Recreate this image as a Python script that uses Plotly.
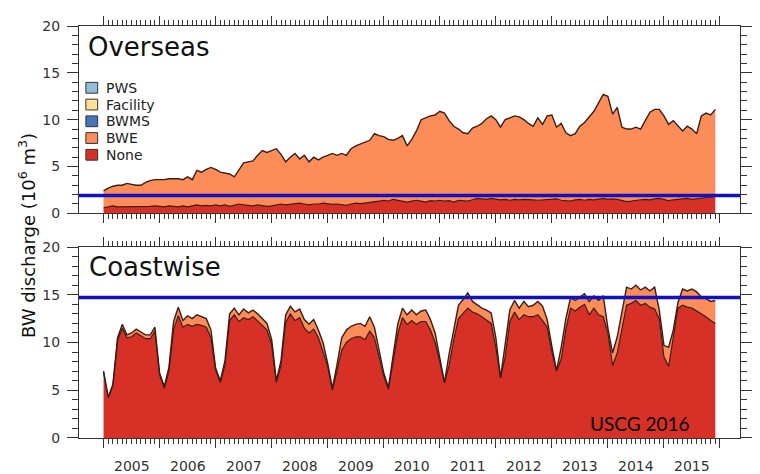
import plotly.graph_objects as go

# ---------------- data (monthly, Jan 2005 - Dec 2015) ----------------
years = list(range(2005, 2016))
month_index = list(range(132))

# Overseas: "None" layer and the top of the stacked "BWE" layer (10^6 m^3)
overseas_none = [
    0.6, 0.7, 0.8, 0.7, 0.7, 0.75, 0.7, 0.75, 0.7, 0.7, 0.75, 0.8,
    0.75, 0.7, 0.8, 0.75, 0.7, 0.8, 0.7, 0.8, 0.9, 0.8, 0.85, 0.8,
    0.9, 0.8, 0.9, 0.75, 0.85, 1.0, 0.9, 0.85, 0.8, 0.9, 0.8, 0.75,
    0.8, 0.9, 1.0, 0.9, 0.95, 1.0, 1.1, 1.0, 0.9, 1.0, 1.0, 1.1,
    1.0, 0.95, 1.0, 0.9, 0.85, 1.0, 1.1, 1.05, 1.1, 1.2, 1.25, 1.3,
    1.4, 1.3, 1.5, 1.4, 1.35, 1.2, 1.3, 1.4, 1.3, 1.2, 1.35, 1.3,
    1.4, 1.3, 1.35, 1.2, 1.4, 1.35, 1.3, 1.45, 1.6, 1.55, 1.5, 1.6,
    1.55, 1.45, 1.5, 1.4, 1.5, 1.45, 1.5, 1.5, 1.45, 1.4, 1.45, 1.5,
    1.5, 1.55, 1.4, 1.35, 1.3, 1.45, 1.5, 1.4, 1.5, 1.45, 1.55, 1.6,
    1.5, 1.55, 1.5, 1.4, 1.25, 1.3, 1.4, 1.45, 1.5, 1.45, 1.55, 1.6,
    1.5, 1.35, 1.45, 1.5, 1.55, 1.6, 1.5, 1.55, 1.65, 1.7, 1.75, 1.8,
]
overseas_bwe_top = [
    2.4, 2.7, 2.9, 3.0, 3.0, 3.2, 3.1, 3.0, 3.0, 3.3, 3.5, 3.6,
    3.6, 3.6, 3.7, 3.7, 3.7, 3.6, 3.9, 3.6, 4.6, 4.4, 4.7, 4.9,
    4.7, 4.4, 4.3, 4.2, 3.9, 4.7, 5.4, 5.5, 5.6, 6.2, 6.7, 6.5,
    6.7, 6.9, 6.3, 5.5, 6.0, 6.4, 5.8, 6.2, 5.5, 6.0, 5.7, 6.0,
    6.2, 6.4, 6.2, 6.4, 6.2, 6.9, 7.2, 7.4, 7.6, 7.8, 8.5, 8.3,
    8.2, 7.9, 7.8, 8.0, 8.3, 7.2, 7.9, 8.8, 10.0, 10.2, 10.4, 10.5,
    10.9, 10.7, 9.9, 9.3, 9.0, 8.6, 8.5, 9.1, 9.3, 9.6, 10.1, 10.4,
    10.0, 9.2, 10.0, 10.2, 10.4, 10.3, 10.0, 9.6, 9.3, 10.2, 9.5, 10.4,
    10.5, 9.2, 9.6, 8.6, 8.3, 8.5, 9.3, 9.7, 10.3, 10.9, 11.8, 12.7,
    12.5, 10.6, 11.3, 9.2, 9.0, 9.0, 9.2, 9.0, 9.9, 10.8, 11.1, 11.1,
    10.4, 9.5, 9.9, 9.3, 8.8, 9.3, 9.0, 8.5, 10.4, 10.7, 10.5, 11.1,
]

# Coastwise: "None" layer and the top of the stacked "BWE" layer (10^6 m^3)
coastwise_none = [
    6.9, 4.2, 5.5, 10.2, 11.5, 10.5, 10.6, 11.0, 10.7, 10.4, 10.4, 11.2,
    6.6, 5.2, 7.0, 11.4, 12.8, 11.6, 11.9, 11.7, 11.9, 11.8, 11.6, 10.5,
    7.1, 5.8, 7.6, 12.3, 12.9, 12.2, 12.6, 12.4, 12.7, 12.3, 11.8, 11.3,
    9.8, 5.8, 7.6, 12.1, 13.0, 12.3, 12.6, 11.5, 11.0, 11.4, 10.5, 9.0,
    7.5, 5.0, 7.0, 9.2, 10.0, 10.4, 10.6, 10.6, 10.3, 11.2, 10.5, 8.6,
    6.5, 5.1, 7.8, 10.9, 12.6, 11.9, 12.3, 11.9, 12.2, 12.2, 11.3, 10.0,
    8.0, 5.8, 7.6, 10.3, 12.5, 13.1, 13.6, 13.2, 13.0, 12.7, 12.3, 12.0,
    9.5, 6.3, 8.5, 12.2, 13.2, 12.4, 12.9, 12.7, 12.7, 12.9, 12.3, 11.6,
    9.0, 7.0, 8.3, 11.4, 13.6, 13.3, 13.7, 14.0, 12.9, 13.6, 12.9, 12.7,
    11.0, 7.6, 8.9, 11.5, 13.9, 14.1, 14.4, 13.9, 14.1, 13.7, 13.5, 12.5,
    8.5, 7.5, 10.5, 13.6, 13.9, 13.7, 13.6, 13.3, 13.0, 12.7, 12.3, 12.0,
]
coastwise_bwe_top = [
    7.0, 4.3, 5.6, 10.5, 11.9, 10.8, 11.0, 11.4, 11.1, 10.8, 10.8, 11.6,
    6.8, 5.4, 7.4, 12.2, 13.7, 12.3, 12.8, 12.5, 12.9, 12.7, 12.5, 11.3,
    7.3, 6.0, 8.1, 13.0, 13.6, 12.9, 13.5, 13.1, 13.4, 13.0, 12.5, 12.0,
    10.3, 6.0, 8.1, 12.9, 13.8, 13.2, 13.5, 12.4, 11.9, 12.4, 11.3, 10.0,
    7.8, 5.2, 7.7, 10.5, 11.3, 11.7, 11.9, 12.0, 11.7, 12.7, 11.6, 9.3,
    6.8, 5.3, 8.6, 11.9, 13.6, 12.9, 13.4, 12.9, 13.3, 13.4, 12.4, 11.0,
    8.4, 5.8, 8.8, 11.5, 13.9, 14.5, 15.2, 14.3, 13.9, 13.6, 13.4, 13.1,
    10.5, 6.35, 9.8, 13.4, 14.4, 13.6, 14.3, 13.75, 13.9, 14.3, 13.8, 12.4,
    9.6, 7.05, 9.5, 12.5, 14.7, 14.4, 14.75, 15.1, 14.3, 14.9, 14.4, 14.9,
    11.5, 8.9, 10.6, 13.2, 15.8, 15.6, 16.0, 15.5, 15.8, 15.4, 15.8, 13.4,
    9.7, 9.5, 11.3, 14.2, 15.6, 15.4, 15.6, 15.3, 14.8, 14.6, 14.3, 14.4,
]

overseas_limit = 1.9
coastwise_limit = 14.7

legend_labels = ["PWS", "Facility", "BWMS", "BWE", "None"]
legend_colors = ["#91bfdb", "#fee090", "#4575b4", "#fc8d59", "#d73027"]

# ---------------- figure ----------------
month_x = [2005 + m / 12 for m in month_index]
C_NONE = "#d73027"
C_BWE = "#fc8d59"
EDGE = "#3a1e16"

fig = go.Figure()


def add_panel(none_vals, top_vals, xa, ya):
    fig.add_trace(go.Scatter(x=month_x, y=none_vals, xaxis=xa, yaxis=ya, name="None",
                             mode="lines", line=dict(color=EDGE, width=1.2),
                             fill="tozeroy", fillcolor=C_NONE, showlegend=False))
    fig.add_trace(go.Scatter(x=month_x, y=top_vals, xaxis=xa, yaxis=ya, name="BWE",
                             mode="lines", line=dict(color=EDGE, width=1.4),
                             fill="tonexty", fillcolor=C_BWE, showlegend=False))


add_panel(overseas_none, overseas_bwe_top, "x", "y")
add_panel(coastwise_none, coastwise_bwe_top, "x2", "y2")

# page has an 8px body margin, so the figure is drawn offset by (8, 8)
OFF = 8
W, H = 760 - OFF, 474 - OFF
L, R, T, B = 79 - OFF, 8, 18 - OFF, 36
PW, PH = W - L - R, H - T - B


def px_x(p):
    return (p - OFF - L) / PW


def px_y(p):
    return (H - B - (p - OFF)) / PH


AX = "#333333"
minor_months = [2005 + m / 12 for m in range(133)]
xcommon = dict(range=[2004.562, 2016.357], tickmode="array",
               tickvals=list(range(2005, 2017)), showticklabels=False,
               ticks="outside", ticklen=9, tickwidth=1, tickcolor=AX,
               showline=True, linecolor=AX, linewidth=1, mirror="allticks",
               showgrid=False, zeroline=False,
               minor=dict(tickmode="array", tickvals=minor_months, ticks="outside",
                          ticklen=5, tickwidth=1, tickcolor=AX, showgrid=False))
ycommon = dict(range=[0, 20], tickmode="array", tickvals=[0, 5, 10, 15, 20],
               ticks="outside", ticklen=11, tickwidth=1, tickcolor=AX,
               showline=True, linecolor=AX, linewidth=1, mirror="allticks",
               showgrid=False, zeroline=False, ticklabelstandoff=4,
               tickfont=dict(size=14, color="#333333"),
               minor=dict(dtick=1, ticks="outside", ticklen=6, tickwidth=1,
                          tickcolor=AX, showgrid=False))

top_lo = px_y(209)
bot_hi = px_y(243.3)
fig.update_layout(
    width=W, height=H,
    margin=dict(l=L, r=R, t=T, b=B, pad=0),
    paper_bgcolor="white", plot_bgcolor="white",
    font=dict(family="DejaVu Sans", size=14, color="#222222"),
    xaxis=dict(xcommon, anchor="y", domain=[0, 1]),
    xaxis2=dict(xcommon, anchor="y2", domain=[0, 1]),
    yaxis=dict(ycommon, anchor="x", domain=[top_lo, 1]),
    yaxis2=dict(ycommon, anchor="x2", domain=[0, bot_hi]),
    showlegend=False,
)

shapes = [
    dict(type="line", xref="x domain", yref="y", x0=0, x1=1, y0=overseas_limit,
         y1=overseas_limit, line=dict(color="#1010c4", width=3.5), layer="above"),
    dict(type="line", xref="x2 domain", yref="y2", x0=0, x1=1, y0=coastwise_limit,
         y1=coastwise_limit, line=dict(color="#1010c4", width=3.5), layer="above"),
]
annotations = []
for i, (lab, col) in enumerate(zip(legend_labels, legend_colors)):
    cy = 81 + 17.07 * i
    shapes.append(dict(type="rect", xref="paper", yref="paper",
                       x0=px_x(86), x1=px_x(98), y0=px_y(cy + 5.5), y1=px_y(cy - 5.5),
                       line=dict(color="#333333", width=1), fillcolor=col, layer="above"))
    annotations.append(dict(xref="paper", yref="paper", x=px_x(104), y=px_y(cy),
                            xanchor="left", yanchor="middle", text=lab, showarrow=False,
                            font=dict(size=14, color="#222222")))

for yr in years:
    annotations.append(dict(xref="x2", yref="paper", x=yr + 0.5, y=0, yanchor="top",
                            yshift=-18, text=str(yr), showarrow=False,
                            font=dict(size=14, color="#333333")))

annotations += [
    dict(xref="paper", yref="paper", x=px_x(86), y=px_y(39), xanchor="left",
         yanchor="middle", text="Overseas", showarrow=False,
         font=dict(size=26, color="#111111")),
    dict(xref="paper", yref="paper", x=px_x(87), y=px_y(264), xanchor="left",
         yanchor="middle", text="Coastwise", showarrow=False,
         font=dict(size=26, color="#111111")),
    dict(xref="paper", yref="paper", x=px_x(26), y=px_y(231), xanchor="center",
         yanchor="middle", textangle=-90,
         text="BW discharge (10<sup>6</sup> m<sup>3</sup>)", showarrow=False,
         font=dict(size=18, color="#111111")),
    dict(xref="paper", yref="paper", x=px_x(597), y=px_y(423), xanchor="left",
         yanchor="middle", text="USCG 2016", showarrow=False,
         font=dict(family="Lato", size=19, color="#000000")),
]

fig.update_layout(shapes=shapes, annotations=annotations)
fig.write_html("out.html")
